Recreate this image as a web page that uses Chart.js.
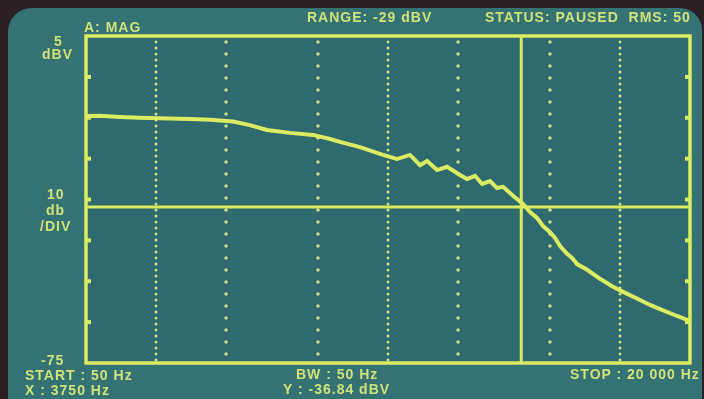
<!DOCTYPE html>
<html>
<head>
<meta charset="utf-8">
<script src="https://cdn.jsdelivr.net/npm/chart.js@4/dist/chart.umd.min.js"></script>
<style>
  html, body { margin: 0; padding: 0; }
  body { width: 704px; height: 399px; background: #2b2024; position: relative; overflow: hidden; }
  #panel {
    position: absolute; left: 8px; top: 8px; width: 694px; height: 400px;
    background: #347273; border-radius: 24px 22px 0 0;
  }
  canvas { position: absolute; left: 0; top: 0; }
  .lbl {
    position: absolute; color: #d0e27a; font-family: "Liberation Sans", Arial, sans-serif;
    font-weight: bold; font-size: 14px; line-height: 14px; letter-spacing: 1px; white-space: nowrap;
  }
</style>
</head>
<body>
<div id="panel"></div>
<canvas id="c" width="704" height="399"></canvas>

<div class="lbl" style="left:84px;top:20px;">A: MAG</div>
<div class="lbl" style="left:307px;top:10px;">RANGE: -29 dBV</div>
<div class="lbl" style="left:485px;top:10px;">STATUS: PAUSED&nbsp;&nbsp;RMS: 50</div>
<div class="lbl" style="left:54px;top:34px;">5</div>
<div class="lbl" style="left:42px;top:47px;">dBV</div>
<div class="lbl" style="left:47px;top:187px;">10</div>
<div class="lbl" style="left:46px;top:203px;">db</div>
<div class="lbl" style="left:40px;top:219px;">/DIV</div>
<div class="lbl" style="left:41px;top:353px;">-75</div>
<div class="lbl" style="left:25px;top:368px;">START : 50 Hz</div>
<div class="lbl" style="left:25px;top:383px;">X : 3750 Hz</div>
<div class="lbl" style="left:296px;top:367px;">BW : 50 Hz</div>
<div class="lbl" style="left:283px;top:382px;">Y : -36.84 dBV</div>
<div class="lbl" style="left:570px;top:367px;">STOP : 20 000 Hz</div>

<script>
// frequency axis (Hz, log) and level axis (dBV)
const freqMin = 50;
const freqMax = 20000;
const levelTop = 5;
const levelBottom = -75;
const levelStep = 10;

// dotted frequency grid lines
const denseGrid = [100, 1000, 10000];
const sparseGrid = [200, 500, 2000, 5000];

// cursors
const cursorX = 3750;
const cursorY = -36.84;

// measured trace
const traceFreq = [50, 57.5, 70, 85, 104, 140, 171, 215, 254, 301, 378, 475, 563, 621, 757, 952,
  1093, 1244, 1374, 1473, 1627, 1797, 2043, 2190, 2371, 2541, 2751, 2950, 3131, 3457, 3816, 4092,
  4386, 4655, 4990, 5244, 5511, 5908, 6210, 6527, 7207, 8196, 9230, 10295, 12189, 13456, 14859, 17590, 20000];
const traceLevel = [-14.6, -14.5, -14.8, -15.0, -15.1, -15.3, -15.5, -15.9, -16.8, -18.0, -18.7, -19.2, -20.2, -20.9, -22.2, -24.1,
  -25.1, -24.1, -26.6, -25.6, -27.8, -27.0, -29.0, -30.0, -29.2, -31.2, -30.5, -32.2, -31.9, -34.1, -36.1, -38.1,
  -39.5, -41.5, -43.0, -44.4, -46.4, -48.3, -49.3, -50.8, -52.2, -54.4, -56.2, -57.6, -59.6, -60.8, -61.8, -63.5, -64.7];

const yellow = "#dcec62";

const screenPlugin = {
  id: "screen",
  beforeDatasetsDraw(chart) {
    const { ctx, chartArea: a, scales } = chart;
    ctx.save();
    ctx.fillStyle = "#2e6a6e";
    ctx.fillRect(a.left, a.top, a.right - a.left, a.bottom - a.top);
    ctx.strokeStyle = "#cfe083";
    ctx.lineCap = "round";
    const drawDots = (freqs, gap, width) => {
      ctx.lineWidth = width;
      ctx.setLineDash([0, gap]);
      freqs.forEach(f => {
        const px = Math.round(scales.x.getPixelForValue(f));
        ctx.beginPath();
        ctx.moveTo(px, a.top + 6);
        ctx.lineTo(px, a.bottom - 2);
        ctx.stroke();
      });
    };
    drawDots(denseGrid, 6, 3);
    drawDots(sparseGrid, 12, 3.5);
    ctx.setLineDash([]);
    // small division marks on both sides
    ctx.fillStyle = yellow;
    for (let v = levelTop - levelStep; v > levelBottom; v -= levelStep) {
      const py = scales.y.getPixelForValue(v);
      ctx.fillRect(a.left, py - 2, 5, 4);
      ctx.fillRect(a.right - 5, py - 2, 5, 4);
    }
    ctx.restore();
  },
  afterDatasetsDraw(chart) {
    const { ctx, chartArea: a } = chart;
    ctx.save();
    ctx.strokeStyle = yellow;
    ctx.lineWidth = 3.5;
    ctx.strokeRect(a.left, a.top, a.right - a.left, a.bottom - a.top);
    ctx.restore();
  }
};

new Chart(document.getElementById("c"), {
  type: "scatter",
  data: {
    datasets: [
      {
        data: traceFreq.map((f, i) => ({ x: f, y: traceLevel[i] })),
        showLine: true, borderColor: yellow, borderWidth: 4, pointRadius: 0, tension: 0
      },
      {
        data: [{ x: freqMin, y: cursorY }, { x: freqMax, y: cursorY }],
        showLine: true, borderColor: yellow, borderWidth: 3, pointRadius: 0
      },
      {
        data: [{ x: cursorX, y: levelTop }, { x: cursorX, y: levelBottom }],
        showLine: true, borderColor: yellow, borderWidth: 3, pointRadius: 0
      }
    ]
  },
  options: {
    responsive: false,
    animation: false,
    layout: { padding: { left: 86, right: 14, top: 36, bottom: 36 } },
    plugins: { legend: { display: false }, tooltip: { enabled: false } },
    scales: {
      x: { type: "logarithmic", min: freqMin, max: freqMax, display: false },
      y: { type: "linear", min: levelBottom, max: levelTop, display: false }
    }
  },
  plugins: [screenPlugin]
});
</script>
</body>
</html>
